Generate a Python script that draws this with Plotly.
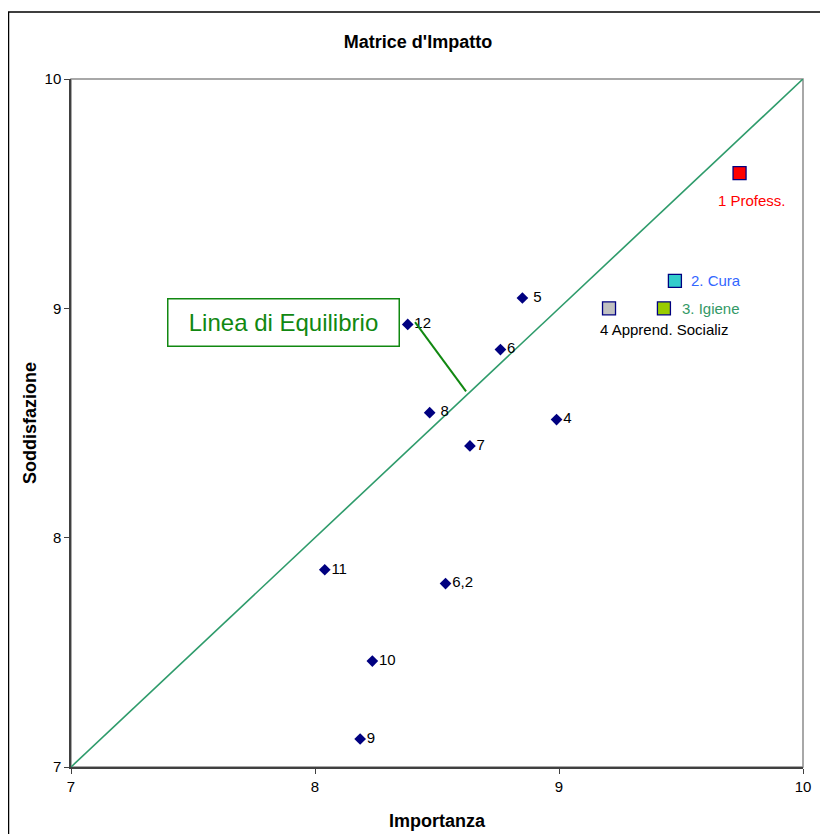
import plotly.graph_objects as go

# Data
item_x = [8.85, 8.76, 8.38, 8.47, 8.99, 8.635, 8.04, 8.535, 8.235, 8.185]
item_y = [9.045, 8.82, 8.93, 8.545, 8.515, 8.40, 7.86, 7.80, 7.462, 7.122]
item_text = [" 5", "6", "12", " 8", "4", "7", "11", "6,2", "10", "9"]

area_labels = ["1 Profess.", "2. Cura", "3. Igiene", "4 Apprend. Socializ"]
area_x = [9.74, 9.475, 9.43, 9.205]
area_y = [9.59, 9.12, 9.0, 9.0]
area_fill = ["#ff0000", "#33cccc", "#99cc00", "#c0c0c0"]
area_text_color = ["#ff0000", "#3366ff", "#339966", "#000000"]

eq_x = [7, 10]
eq_y = [7, 10]

x_ticks = [7, 8, 9, 10]
y_ticks = [7, 8, 9, 10]

FONT = "Liberation Sans, Arial, sans-serif"

fig = go.Figure()

fig.add_trace(go.Scatter(
    x=eq_x, y=eq_y, mode="lines",
    line=dict(color="#2e9b6b", width=1.6),
    hoverinfo="skip", showlegend=False))

fig.add_trace(go.Scatter(
    x=item_x, y=item_y, mode="markers+text",
    marker=dict(symbol="diamond", size=9, color="#000080"),
    text=item_text, textposition="middle right",
    textfont=dict(family=FONT, size=15, color="#000000"),
    showlegend=False))

label_shift = [(12, -27, "center"), (14, 0, "left"), (16, 0, "left"), (-11, -21, "left")]
for i in range(len(area_labels)):
    fig.add_trace(go.Scatter(
        x=[area_x[i]], y=[area_y[i]], mode="markers",
        marker=dict(symbol="square", size=13, color=area_fill[i],
                    line=dict(color="#000080", width=1.3)),
        showlegend=False))
    dx, dy, anc = label_shift[i]
    fig.add_annotation(
        x=area_x[i], y=area_y[i], xref="x", yref="y",
        text=area_labels[i], showarrow=False,
        xanchor=anc, yanchor="middle", xshift=dx, yshift=dy,
        font=dict(family=FONT, size=15, color=area_text_color[i]))

# Callout box
fig.add_annotation(
    x=7.871, y=8.938, xref="x", yref="y",
    text="Linea di Equilibrio", showarrow=False,
    font=dict(family=FONT, size=24, color="#118811"),
    bordercolor="#118811", borderwidth=1.5, borderpad=0,
    width=230, height=46, bgcolor="#ffffff")
fig.add_shape(type="line", xref="x", yref="y",
              x0=8.41, y0=8.94, x1=8.619, y1=8.638,
              line=dict(color="#118811", width=2))

# Plot-area frame (grey)
fig.add_shape(type="rect", xref="paper", yref="paper",
              x0=0, x1=1, y0=0, y1=1,
              line=dict(color="#8c8c8c", width=1.5), layer="below")

# Outer chart border
fig.add_shape(type="rect", xref="paper", yref="paper",
              x0=-62.5 / 732, x1=1.1,
              y0=-0.2, y1=755 / 688,
              line=dict(color="#000000", width=1.5), layer="below")

fig.update_layout(
    width=820, height=826,
    margin=dict(l=63, r=25, t=71, b=67),
    paper_bgcolor="#ffffff", plot_bgcolor="#ffffff",
    font=dict(family=FONT, size=15, color="#000000"),
    title=dict(text="<b>Matrice d'Impatto</b>", x=0.5, xanchor="center",
               y=1 - 34 / 826, yanchor="middle",
               font=dict(family=FONT, size=18, color="#000000")),
    xaxis=dict(range=[7, 10], tickvals=x_ticks, ticks="outside", ticklen=5,
               tickcolor="#404040", showgrid=False, zeroline=False,
               showline=True, linecolor="#404040", linewidth=1.5,
               automargin=False,
               tickfont=dict(family=FONT, size=15),
               title=dict(text="<b>Importanza</b>", standoff=21,
                          font=dict(family=FONT, size=18))),
    yaxis=dict(range=[7, 10], tickvals=y_ticks, ticks="outside", ticklen=5,
               tickcolor="#404040", showgrid=False, zeroline=False,
               showline=True, linecolor="#404040", linewidth=1.5,
               automargin=False,
               tickfont=dict(family=FONT, size=15),
               title=dict(text="<b>Soddisfazione</b>", standoff=3,
                          font=dict(family=FONT, size=18))),
)

fig.write_html("out.html")
